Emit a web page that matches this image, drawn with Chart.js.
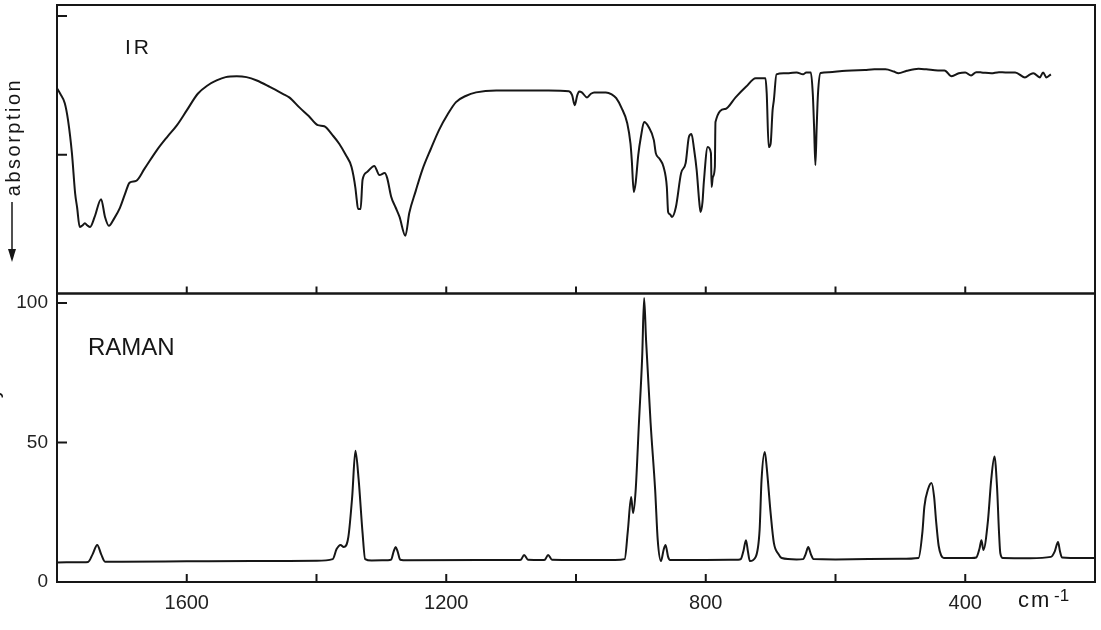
<!DOCTYPE html>
<html>
<head>
<meta charset="utf-8">
<title>IR and Raman spectra</title>
<script src="https://cdn.jsdelivr.net/npm/chart.js@4.4.0/dist/chart.umd.min.js"></script>
<style>
  html, body { margin: 0; padding: 0; background: #fff; }
  #wrap { width: 1101px; height: 630px; }
</style>
</head>
<body>
<div id="wrap"><canvas id="spectra" width="1101" height="630"></canvas></div>
<script>
// IR trace (pen height, 0 = bottom of upper panel)
const irWavenumbers = [
  1800, 1795, 1788, 1783, 1777, 1772, 1769, 1765, 1761, 1757, 1753, 1749, 1742, 1732, 1726, 1720,
  1712, 1703, 1695, 1688, 1678, 1665, 1646, 1630, 1615, 1600, 1583, 1568, 1554, 1540, 1523, 1508,
  1492, 1472, 1452, 1442, 1426, 1412, 1398, 1388, 1375, 1365, 1355, 1346, 1340, 1338, 1336, 1332,
  1329, 1322, 1311, 1303, 1295, 1291, 1285, 1278, 1272, 1263, 1257, 1247, 1237, 1224, 1211, 1198,
  1185, 1170, 1154, 1123, 1042, 1011, 1006, 1002, 998, 995, 991, 983, 977, 972, 954, 945,
  938, 930, 921, 916, 914, 911, 908, 904, 900, 895, 888, 880, 877, 871, 865, 860,
  858, 855, 852, 846, 838, 831, 826, 822, 818, 814, 810, 808, 805, 803, 797, 792,
  791, 789, 786, 785, 770, 754, 738, 723, 708, 706, 703, 700, 697, 695, 691, 680,
  672, 660, 650, 645, 640, 638, 635, 633, 631, 629, 627, 623, 610, 590, 575, 555,
  540, 523, 510, 503, 490, 472, 460, 442, 432, 421, 410, 400, 391, 383, 375, 360,
  348, 338, 323, 308, 300, 295, 285, 280, 275, 268
];
const irSignal = [
  74, 72, 68.6, 62.5, 50.6, 36, 31, 24, 24.5, 25.3, 24.5, 24, 27.6, 34, 27.6, 24.4,
  27, 30.9, 36, 40, 40.6, 45, 51.7, 56.5, 60.7, 66, 72, 75, 76.8, 78, 78.3, 78,
  76.8, 74.5, 72, 70.7, 67, 64, 60.7, 60.3, 57, 54, 50, 45.6, 38, 33.8, 30.5, 30.5,
  41, 43.8, 46, 42.7, 43.4, 41.6, 35, 31, 27.6, 20.8, 29, 37, 44.5, 52, 59, 64.5,
  69, 71.2, 72.5, 73.2, 73.2, 72.9, 71.5, 67.9, 71.5, 72.8, 72.5, 70.7, 72, 72.5, 72.5, 71.8,
  70.4, 67, 61.4, 54, 48, 36.6, 40, 50, 56.4, 61.8, 60, 55.3, 50.6, 48.5, 45.6, 38.4,
  29.4, 28.5, 27.6, 31.2, 43.4, 47, 56.4, 57.5, 52, 44.5, 33, 29.4, 33, 40, 52.8, 50.6,
  38.4, 42, 45.6, 61.8, 66.5, 70.7, 74.5, 77.6, 77.6, 72, 52.8, 54, 66, 69.7, 79, 79.4,
  79.4, 79.7, 79, 79.7, 79.7, 79.7, 72, 60, 46.3, 60, 72, 79.5, 79.8, 80.2, 80.4, 80.6,
  80.8, 80.8, 80, 79.4, 80.3, 81, 80.8, 80.4, 80.4, 78.3, 79.4, 79.7, 78.6, 79.8, 79.7, 79.4,
  79.8, 79.7, 79.7, 77.9, 79, 79.4, 77.9, 79.7, 77.9, 79
];

// Raman trace (relative intensity)
const ramanWavenumbers = [
  1800, 1760, 1752, 1745, 1738, 1732, 1726, 1700, 1600, 1500, 1400, 1375, 1369, 1363, 1358, 1351,
  1345, 1340, 1335, 1329, 1325, 1315, 1290, 1285, 1281, 1278, 1275, 1271, 1260, 1090, 1085, 1080,
  1074, 1052, 1048, 1043, 1037, 1000, 940, 925, 920, 915, 912, 908, 903, 898, 895, 892,
  885, 878, 874, 869, 865, 862, 858, 855, 800, 750, 746, 742, 738, 735, 732, 723,
  717, 714, 709, 706, 700, 695, 688, 683, 660, 650, 646, 642, 638, 634, 600, 500,
  472, 466, 463, 457, 452, 448, 445, 441, 437, 433, 390, 383, 378, 375, 372, 365,
  360, 355, 351, 348, 346, 342, 300, 268, 262, 257, 254, 251, 220, 200
];
const ramanIntensity = [
  7.0, 7.1, 7.2, 10, 13.3, 10, 7.3, 7.3, 7.4, 7.5, 7.6, 8.2, 11.8, 13.3, 12.5, 16,
  30.5, 47, 36.6, 17.6, 8.2, 7.7, 7.8, 8, 11, 12.5, 11, 8, 7.8, 7.9, 8, 9.7,
  8, 7.9, 8, 9.7, 8, 7.9, 7.9, 8.2, 18.6, 30.5, 24.7, 33, 57, 80.6, 101.8, 86.7,
  57, 33, 15, 7.5, 11.5, 13.3, 9, 7.9, 7.9, 8, 8.2, 11, 15, 11, 7.5, 9,
  18.6, 36.6, 46.6, 41, 24.7, 14, 10, 8.6, 8.1, 8.2, 10, 12.5, 10, 8.2, 8.1, 8.3,
  8.6, 18, 27, 33.5, 35.5, 30.5, 22, 13, 9.5, 8.6, 8.6, 8.8, 12, 15, 11.5, 22,
  36.6, 45, 34, 18, 10.4, 8.6, 8.5, 9, 11, 14.3, 11, 8.8, 8.6, 8.6
];

const xTickLabels = [1600, 1200, 800, 400];
const irTickMarks = [50, 100];
const ramanTickMarks = [50, 100];

const ink = "#161616";

// keep the plot frame where it is, whatever the tick labels need
function fixAxis(size) {
  return s => {
    if (s.isHorizontal()) s.height = size; else s.width = size;
    s.paddingTop = 0;
    s.paddingBottom = 0;
    s.paddingLeft = 0;
    s.paddingRight = 0;
  };
}

const frameAndMarks = {
  id: "frameAndMarks",
  afterDraw(chart) {
    const ctx = chart.ctx;
    const area = chart.chartArea;
    const x = chart.scales.x;
    const yIR = chart.scales.yIR;
    const yR = chart.scales.yR;
    ctx.save();
    ctx.strokeStyle = ink;
    ctx.fillStyle = ink;
    ctx.lineWidth = 2;

    // panel frames
    ctx.strokeRect(area.left, yIR.top, area.right - area.left, yIR.bottom - yIR.top);
    ctx.strokeRect(area.left, yR.top, area.right - area.left, yR.bottom - yR.top);

    // inward tick marks
    ctx.beginPath();
    x.ticks.forEach(t => {
      if (t.value <= x.min || t.value >= x.max) return;
      const px = x.getPixelForValue(t.value);
      ctx.moveTo(px, yIR.bottom); ctx.lineTo(px, yIR.bottom - 7);
      ctx.moveTo(px, yR.bottom); ctx.lineTo(px, yR.bottom - 8);
    });
    irTickMarks.forEach(v => {
      const py = yIR.getPixelForValue(v);
      ctx.moveTo(area.left, py); ctx.lineTo(area.left + 10, py);
    });
    ramanTickMarks.forEach(v => {
      const py = yR.getPixelForValue(v);
      ctx.moveTo(area.left, py); ctx.lineTo(area.left + 10, py);
    });
    ctx.stroke();

    // panel titles
    ctx.textBaseline = "alphabetic";
    ctx.textAlign = "left";
    ctx.font = "21px 'Liberation Sans'";
    ctx.letterSpacing = "3px";
    ctx.fillText("IR", 125, 54);
    ctx.letterSpacing = "0px";
    ctx.font = "24px 'Liberation Sans'";
    ctx.fillText("RAMAN", 88, 355);

    // unit
    ctx.font = "22px 'Liberation Sans'";
    ctx.letterSpacing = "2px";
    ctx.fillText("cm", 1018, 607);
    ctx.letterSpacing = "0px";
    ctx.font = "17px 'Liberation Sans'";
    ctx.fillText("-1", 1054, 601);

    // y label of the IR panel with arrow
    ctx.save();
    ctx.translate(20, 137);
    ctx.rotate(-Math.PI / 2);
    ctx.textAlign = "center";
    ctx.font = "20px 'Liberation Sans'";
    ctx.letterSpacing = "2.5px";
    ctx.fillText("absorption", 0, 0);
    ctx.restore();
    ctx.lineWidth = 1.5;
    ctx.beginPath();
    ctx.moveTo(12, 202); ctx.lineTo(12, 252);
    ctx.stroke();
    ctx.beginPath();
    ctx.moveTo(8, 249); ctx.lineTo(12, 262); ctx.lineTo(16, 249);
    ctx.closePath();
    ctx.fill();

    // Raman y label, almost entirely cut off by the picture edge
    ctx.save();
    ctx.translate(-1, 425);
    ctx.rotate(-Math.PI / 2);
    ctx.textAlign = "center";
    ctx.font = "20px 'Liberation Sans'";
    ctx.fillText("intensity", 0, 0);
    ctx.restore();
    ctx.restore();
  }
};

new Chart(document.getElementById("spectra"), {
  type: "line",
  data: {
    datasets: [
      {
        label: "IR",
        data: irWavenumbers.map((w, i) => ({ x: w, y: irSignal[i] })),
        yAxisID: "yIR",
        borderColor: ink,
        borderWidth: 2,
        pointRadius: 0,
        fill: false,
        cubicInterpolationMode: "monotone"
      },
      {
        label: "RAMAN",
        data: ramanWavenumbers.map((w, i) => ({ x: w, y: ramanIntensity[i] })),
        yAxisID: "yR",
        borderColor: ink,
        borderWidth: 2,
        pointRadius: 0,
        fill: false,
        cubicInterpolationMode: "monotone"
      }
    ]
  },
  options: {
    responsive: false,
    animation: false,
    devicePixelRatio: 1,
    layout: { padding: { top: 5, right: 6, left: 0, bottom: 0 } },
    plugins: { legend: { display: false }, tooltip: { enabled: false } },
    scales: {
      x: {
        type: "linear",
        position: "bottom",
        reverse: true,
        min: 200,
        max: 1800,
        grid: { display: false, drawTicks: false },
        border: { display: false },
        ticks: {
          stepSize: 200,
          autoSkip: false,
          maxRotation: 0,
          padding: 9,
          color: "#222",
          font: { family: "'Liberation Sans'", size: 20 },
          callback: v => xTickLabels.includes(v) ? String(v) : ""
        },
        afterFit: fixAxis(48)
      },
      yIR: {
        type: "linear",
        position: "left",
        stack: "panels",
        weight: 2,
        min: 0,
        max: 104,
        grid: { display: false, drawTicks: false },
        border: { display: false },
        ticks: { display: false },
        afterFit: fixAxis(57)
      },
      yR: {
        type: "linear",
        position: "left",
        stack: "panels",
        weight: 1,
        min: 0,
        max: 103.4,
        grid: { display: false, drawTicks: false },
        border: { display: false },
        ticks: {
          stepSize: 50,
          includeBounds: false,
          padding: 9,
          color: "#222",
          font: { family: "'Liberation Sans'", size: 19 }
        },
        afterFit: fixAxis(57)
      }
    }
  },
  plugins: [frameAndMarks]
});
</script>
</body>
</html>
